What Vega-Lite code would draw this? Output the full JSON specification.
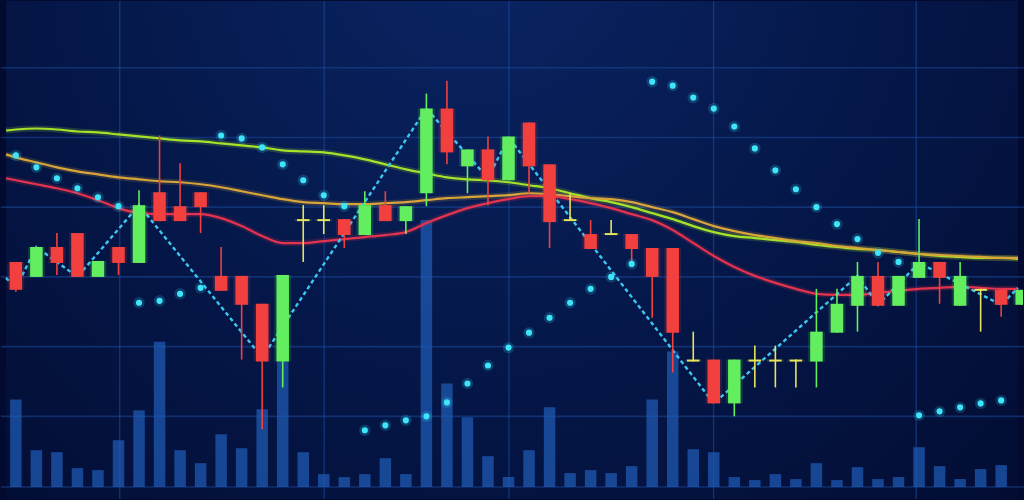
{
  "$schema": "https://vega.github.io/schema/vega-lite/v6.json",
  "width": 1024,
  "height": 500,
  "padding": 0,
  "autosize": {"type": "fit", "contains": "padding"},
  "background": "#020a30",
  "view": {"stroke": null, "fill": null},
  "config": {"view": {"stroke": null}},
  "datasets": {
    "bg": [{"i": -0.48, "i2": 48.82, "y0": 0, "y1": 50}],
    "gx": [{"i": 5.06}, {"i": 15.02}, {"i": 24.02}, {"i": 33.99}, {"i": 43.86}],
    "gy": [{"p": 43.3}, {"p": 36.3}, {"p": 29.3}, {"p": 22.3}, {"p": 15.3}, {"p": 8.3}, {"p": 1.2}],
    "candles": [
      {"i":0,"o":23.8,"h":23.8,"l":20.8,"c":21.0,"t":"down"},
      {"i":1,"o":22.3,"h":25.3,"l":22.3,"c":25.3,"t":"up"},
      {"i":2,"o":25.3,"h":26.7,"l":22.5,"c":23.7,"t":"down"},
      {"i":3,"o":26.7,"h":26.7,"l":22.3,"c":22.3,"t":"down"},
      {"i":4,"o":22.3,"h":23.9,"l":22.3,"c":23.9,"t":"up"},
      {"i":5,"o":25.3,"h":25.3,"l":22.5,"c":23.7,"t":"down"},
      {"i":6,"o":23.7,"h":31.0,"l":23.7,"c":29.5,"t":"up"},
      {"i":7,"o":30.8,"h":36.5,"l":27.9,"c":27.9,"t":"down"},
      {"i":8,"o":29.4,"h":33.7,"l":27.9,"c":27.9,"t":"down"},
      {"i":9,"o":30.8,"h":30.8,"l":26.7,"c":29.3,"t":"down"},
      {"i":10,"o":22.4,"h":25.3,"l":20.9,"c":20.9,"t":"down"},
      {"i":11,"o":22.4,"h":22.4,"l":14.0,"c":19.5,"t":"down"},
      {"i":12,"o":19.6,"h":19.6,"l":7.0,"c":13.8,"t":"down"},
      {"i":13,"o":13.8,"h":22.5,"l":11.2,"c":22.5,"t":"up"},
      {"i":14,"o":28.1,"h":29.5,"l":23.8,"c":27.9,"t":"doji"},
      {"i":15,"o":28.1,"h":29.5,"l":26.6,"c":27.9,"t":"doji"},
      {"i":16,"o":28.1,"h":28.1,"l":25.2,"c":26.5,"t":"down"},
      {"i":17,"o":26.5,"h":30.9,"l":26.5,"c":29.5,"t":"up"},
      {"i":18,"o":29.5,"h":30.9,"l":27.9,"c":27.9,"t":"down"},
      {"i":19,"o":27.9,"h":29.4,"l":26.6,"c":29.4,"t":"up"},
      {"i":20,"o":30.7,"h":40.7,"l":29.4,"c":39.2,"t":"up"},
      {"i":21,"o":39.2,"h":42.0,"l":33.6,"c":34.8,"t":"down"},
      {"i":22,"o":33.4,"h":35.1,"l":30.7,"c":35.1,"t":"up"},
      {"i":23,"o":35.1,"h":36.4,"l":29.5,"c":32.0,"t":"down"},
      {"i":24,"o":32.0,"h":36.4,"l":32.0,"c":36.4,"t":"up"},
      {"i":25,"o":37.8,"h":37.8,"l":30.7,"c":33.4,"t":"down"},
      {"i":26,"o":33.6,"h":33.6,"l":25.2,"c":27.8,"t":"down"},
      {"i":27,"o":28.1,"h":30.7,"l":27.9,"c":27.9,"t":"doji"},
      {"i":28,"o":26.6,"h":28.0,"l":25.1,"c":25.1,"t":"down"},
      {"i":29,"o":26.7,"h":28.0,"l":26.5,"c":26.5,"t":"doji"},
      {"i":30,"o":26.6,"h":26.6,"l":23.8,"c":25.1,"t":"down"},
      {"i":31,"o":25.2,"h":25.2,"l":18.2,"c":22.3,"t":"down"},
      {"i":32,"o":25.2,"h":25.2,"l":12.7,"c":16.7,"t":"down"},
      {"i":33,"o":14.0,"h":16.8,"l":13.8,"c":13.8,"t":"doji"},
      {"i":34,"o":14.0,"h":14.0,"l":9.6,"c":9.6,"t":"down"},
      {"i":35,"o":9.6,"h":14.0,"l":8.3,"c":14.0,"t":"up"},
      {"i":36,"o":14.0,"h":15.4,"l":11.2,"c":13.8,"t":"doji"},
      {"i":37,"o":14.0,"h":15.4,"l":11.2,"c":13.8,"t":"doji"},
      {"i":38,"o":14.0,"h":14.0,"l":11.2,"c":13.8,"t":"doji"},
      {"i":39,"o":13.8,"h":21.1,"l":11.2,"c":16.8,"t":"up"},
      {"i":40,"o":16.7,"h":21.1,"l":16.7,"c":19.6,"t":"up"},
      {"i":41,"o":19.4,"h":23.8,"l":16.8,"c":22.4,"t":"up"},
      {"i":42,"o":22.4,"h":23.8,"l":19.4,"c":19.4,"t":"down"},
      {"i":43,"o":19.4,"h":22.4,"l":19.4,"c":22.4,"t":"up"},
      {"i":44,"o":22.2,"h":28.1,"l":22.2,"c":23.8,"t":"up"},
      {"i":45,"o":23.8,"h":23.8,"l":19.6,"c":22.2,"t":"down"},
      {"i":46,"o":19.4,"h":23.8,"l":19.4,"c":22.4,"t":"up"},
      {"i":47,"o":21.1,"h":21.1,"l":16.8,"c":20.9,"t":"doji"},
      {"i":48,"o":21.0,"h":21.0,"l":18.3,"c":19.5,"t":"down"},
      {"i":49,"o":19.5,"h":21.0,"l":19.5,"c":21.0,"t":"up"}
    ],
    "volume": [
      {"i":0,"v":17.6},{"i":1,"v":7.4},{"i":2,"v":7.0},{"i":3,"v":3.8},{"i":4,"v":3.4},
      {"i":5,"v":9.4},{"i":6,"v":15.4},{"i":7,"v":29.2},{"i":8,"v":7.4},{"i":9,"v":4.8},
      {"i":10,"v":10.6},{"i":11,"v":7.8},{"i":12,"v":15.6},{"i":13,"v":25.2},{"i":14,"v":7.0},
      {"i":15,"v":2.6},{"i":16,"v":2.0},{"i":17,"v":2.6},{"i":18,"v":5.8},{"i":19,"v":2.6},
      {"i":20,"v":53.6},{"i":21,"v":20.8},{"i":22,"v":14.0},{"i":23,"v":6.2},{"i":24,"v":2.0},
      {"i":25,"v":7.4},{"i":26,"v":16.0},{"i":27,"v":2.8},{"i":28,"v":3.4},{"i":29,"v":2.8},
      {"i":30,"v":4.2},{"i":31,"v":17.6},{"i":32,"v":27.2},{"i":33,"v":7.6},{"i":34,"v":7.0},
      {"i":35,"v":2.0},{"i":36,"v":1.4},{"i":37,"v":2.6},{"i":38,"v":1.6},{"i":39,"v":4.8},
      {"i":40,"v":1.4},{"i":41,"v":4.0},{"i":42,"v":1.6},{"i":43,"v":2.0},{"i":44,"v":8.0},
      {"i":45,"v":4.2},{"i":46,"v":1.6},{"i":47,"v":3.6},{"i":48,"v":4.4}
    ],
    "ma": [
      {"s":"ma1","i":-0.48,"p":37.0},{"s":"ma1","i":0,"p":37.1},{"s":"ma1","i":1,"p":37.2},{"s":"ma1","i":2,"p":37.1},{"s":"ma1","i":3,"p":36.9},{"s":"ma1","i":4,"p":36.8},{"s":"ma1","i":5,"p":36.6},{"s":"ma1","i":6,"p":36.4},{"s":"ma1","i":7,"p":36.2},{"s":"ma1","i":8,"p":36.0},{"s":"ma1","i":9,"p":35.9},{"s":"ma1","i":10,"p":35.7},{"s":"ma1","i":11,"p":35.5},{"s":"ma1","i":12,"p":35.3},{"s":"ma1","i":13,"p":35.0},{"s":"ma1","i":14,"p":34.9},{"s":"ma1","i":15,"p":34.8},{"s":"ma1","i":16,"p":34.5},{"s":"ma1","i":17,"p":34.1},{"s":"ma1","i":18,"p":33.6},{"s":"ma1","i":19,"p":33.1},{"s":"ma1","i":20,"p":32.7},{"s":"ma1","i":21,"p":32.3},{"s":"ma1","i":22,"p":32.1},{"s":"ma1","i":23,"p":32.0},{"s":"ma1","i":24,"p":31.8},{"s":"ma1","i":25,"p":31.5},{"s":"ma1","i":26,"p":31.2},{"s":"ma1","i":27,"p":30.7},{"s":"ma1","i":28,"p":30.2},{"s":"ma1","i":29,"p":29.8},{"s":"ma1","i":30,"p":29.3},{"s":"ma1","i":31,"p":28.7},{"s":"ma1","i":32,"p":28.1},{"s":"ma1","i":33,"p":27.4},{"s":"ma1","i":34,"p":26.8},{"s":"ma1","i":35,"p":26.4},{"s":"ma1","i":36,"p":26.2},{"s":"ma1","i":37,"p":26.0},{"s":"ma1","i":38,"p":25.8},{"s":"ma1","i":39,"p":25.5},{"s":"ma1","i":40,"p":25.3},{"s":"ma1","i":41,"p":25.1},{"s":"ma1","i":42,"p":25.0},{"s":"ma1","i":43,"p":24.8},{"s":"ma1","i":44,"p":24.6},{"s":"ma1","i":45,"p":24.4},{"s":"ma1","i":46,"p":24.3},{"s":"ma1","i":47,"p":24.2},{"s":"ma1","i":48,"p":24.2},{"s":"ma1","i":48.82,"p":24.1},
      {"s":"ma2","i":-0.48,"p":34.6},{"s":"ma2","i":0,"p":34.3},{"s":"ma2","i":1,"p":33.8},{"s":"ma2","i":2,"p":33.3},{"s":"ma2","i":3,"p":32.9},{"s":"ma2","i":4,"p":32.6},{"s":"ma2","i":5,"p":32.3},{"s":"ma2","i":6,"p":32.1},{"s":"ma2","i":7,"p":31.9},{"s":"ma2","i":8,"p":31.8},{"s":"ma2","i":9,"p":31.6},{"s":"ma2","i":10,"p":31.3},{"s":"ma2","i":11,"p":30.9},{"s":"ma2","i":12,"p":30.5},{"s":"ma2","i":13,"p":30.1},{"s":"ma2","i":14,"p":29.8},{"s":"ma2","i":15,"p":29.7},{"s":"ma2","i":16,"p":29.6},{"s":"ma2","i":17,"p":29.6},{"s":"ma2","i":18,"p":29.7},{"s":"ma2","i":19,"p":29.8},{"s":"ma2","i":20,"p":30.0},{"s":"ma2","i":21,"p":30.2},{"s":"ma2","i":22,"p":30.3},{"s":"ma2","i":23,"p":30.4},{"s":"ma2","i":24,"p":30.5},{"s":"ma2","i":25,"p":30.7},{"s":"ma2","i":26,"p":30.6},{"s":"ma2","i":27,"p":30.4},{"s":"ma2","i":28,"p":30.2},{"s":"ma2","i":29,"p":30.1},{"s":"ma2","i":30,"p":29.8},{"s":"ma2","i":31,"p":29.3},{"s":"ma2","i":32,"p":28.8},{"s":"ma2","i":33,"p":28.1},{"s":"ma2","i":34,"p":27.4},{"s":"ma2","i":35,"p":26.9},{"s":"ma2","i":36,"p":26.5},{"s":"ma2","i":37,"p":26.2},{"s":"ma2","i":38,"p":25.9},{"s":"ma2","i":39,"p":25.7},{"s":"ma2","i":40,"p":25.4},{"s":"ma2","i":41,"p":25.2},{"s":"ma2","i":42,"p":25.0},{"s":"ma2","i":43,"p":24.8},{"s":"ma2","i":44,"p":24.6},{"s":"ma2","i":45,"p":24.5},{"s":"ma2","i":46,"p":24.4},{"s":"ma2","i":47,"p":24.3},{"s":"ma2","i":48,"p":24.2},{"s":"ma2","i":48.82,"p":24.2},
      {"s":"ma3","i":-0.48,"p":32.2},{"s":"ma3","i":0,"p":32.0},{"s":"ma3","i":1,"p":31.6},{"s":"ma3","i":2,"p":31.2},{"s":"ma3","i":3,"p":30.7},{"s":"ma3","i":4,"p":30.0},{"s":"ma3","i":5,"p":29.2},{"s":"ma3","i":6,"p":28.7},{"s":"ma3","i":7,"p":28.6},{"s":"ma3","i":8,"p":28.6},{"s":"ma3","i":9,"p":28.6},{"s":"ma3","i":10,"p":28.2},{"s":"ma3","i":11,"p":27.4},{"s":"ma3","i":12,"p":26.4},{"s":"ma3","i":13,"p":25.7},{"s":"ma3","i":14,"p":25.7},{"s":"ma3","i":15,"p":25.9},{"s":"ma3","i":16,"p":26.1},{"s":"ma3","i":17,"p":26.3},{"s":"ma3","i":18,"p":26.5},{"s":"ma3","i":19,"p":26.8},{"s":"ma3","i":20,"p":27.7},{"s":"ma3","i":21,"p":28.5},{"s":"ma3","i":22,"p":29.2},{"s":"ma3","i":23,"p":29.7},{"s":"ma3","i":24,"p":30.1},{"s":"ma3","i":25,"p":30.4},{"s":"ma3","i":26,"p":30.4},{"s":"ma3","i":27,"p":30.1},{"s":"ma3","i":28,"p":29.7},{"s":"ma3","i":29,"p":29.2},{"s":"ma3","i":30,"p":28.6},{"s":"ma3","i":31,"p":28.0},{"s":"ma3","i":32,"p":27.0},{"s":"ma3","i":33,"p":25.7},{"s":"ma3","i":34,"p":24.4},{"s":"ma3","i":35,"p":23.3},{"s":"ma3","i":36,"p":22.4},{"s":"ma3","i":37,"p":21.7},{"s":"ma3","i":38,"p":21.1},{"s":"ma3","i":39,"p":20.6},{"s":"ma3","i":40,"p":20.5},{"s":"ma3","i":41,"p":20.5},{"s":"ma3","i":42,"p":20.7},{"s":"ma3","i":43,"p":20.9},{"s":"ma3","i":44,"p":21.1},{"s":"ma3","i":45,"p":21.2},{"s":"ma3","i":46,"p":21.3},{"s":"ma3","i":47,"p":21.2},{"s":"ma3","i":48,"p":21.1},{"s":"ma3","i":48.82,"p":21.1}
    ],
    "sar": [
      {"i":0,"p":34.5},{"i":1,"p":33.3},{"i":2,"p":32.2},{"i":3,"p":31.2},{"i":4,"p":30.3},{"i":5,"p":29.4},
      {"i":6,"p":19.7},{"i":7,"p":19.9},{"i":8,"p":20.6},{"i":9,"p":21.2},
      {"i":10,"p":36.5},{"i":11,"p":36.2},{"i":12,"p":35.3},{"i":13,"p":33.6},{"i":14,"p":32.0},{"i":15,"p":30.5},{"i":16,"p":29.4},
      {"i":17,"p":6.9},{"i":18,"p":7.4},{"i":19,"p":7.9},{"i":20,"p":8.3},{"i":21,"p":9.7},{"i":22,"p":11.6},{"i":23,"p":13.4},{"i":24,"p":15.2},{"i":25,"p":16.7},{"i":26,"p":18.2},{"i":27,"p":19.7},{"i":28,"p":21.1},{"i":29,"p":22.3},{"i":30,"p":23.6},
      {"i":31,"p":41.9},{"i":32,"p":41.5},{"i":33,"p":40.3},{"i":34,"p":39.2},{"i":35,"p":37.4},{"i":36,"p":35.2},{"i":37,"p":33.0},{"i":38,"p":31.1},{"i":39,"p":29.3},{"i":40,"p":27.6},{"i":41,"p":26.1},{"i":42,"p":24.7},{"i":43,"p":23.8},
      {"i":44,"p":8.4},{"i":45,"p":8.8},{"i":46,"p":9.2},{"i":47,"p":9.6},{"i":48,"p":9.9}
    ],
    "zig": [
      {"i":-0.48,"p":22.2},{"i":0,"p":21.2},{"i":1,"p":25.3},{"i":3,"p":22.3},{"i":6,"p":29.5},{"i":12,"p":14.2},{"i":20,"p":39.2},{"i":23,"p":32.2},{"i":24,"p":36.3},{"i":34,"p":9.6},{"i":41,"p":22.4},{"i":42,"p":19.5},{"i":44,"p":23.7},{"i":48,"p":19.5},{"i":48.82,"p":21.2}
    ]
  },
  "encoding": {
    "x": {"field": "i", "type": "quantitative", "axis": null, "scale": {"domain": [-0.48, 48.82], "nice": false, "zero": false}}
  },
  "layer": [
    {
      "data": {"name": "bg"},
      "mark": {"type": "rect", "clip": true, "strokeWidth": 0,
        "fill": {"gradient": "radial", "x1": 0.47, "y1": 0.2, "r1": 0, "x2": 0.47, "y2": 0.2, "r2": 0.85,
          "stops": [{"offset": 0, "color": "#0a2564"}, {"offset": 0.45, "color": "#05184a"}, {"offset": 1, "color": "#020a2e"}]}},
      "encoding": {
        "x2": {"field": "i2"},
        "y": {"field": "y0", "type": "quantitative", "axis": null, "scale": {"domain": [0, 50], "nice": false, "zero": false}},
        "y2": {"field": "y1"}
      }
    },
    {
      "data": {"name": "gx"},
      "mark": {"type": "rule", "color": "#1b4c9e", "strokeWidth": 1.3, "opacity": 0.6},
      "encoding": {}
    },
    {
      "data": {"name": "gy"},
      "mark": {"type": "rule", "color": "#1b4c9e", "strokeWidth": 1.6, "opacity": 0.5},
      "encoding": {
        "x": {"value": 0}, "x2": {"value": 1024},
        "y": {"field": "p", "type": "quantitative", "axis": null, "scale": {"domain": [0, 50], "nice": false, "zero": false}}
      }
    },
    {
      "data": {"name": "volume"},
      "mark": {"type": "bar", "width": 11.5, "color": "#1e5cb6", "opacity": 0.72, "clip": true},
      "encoding": {
        "y": {"field": "v", "type": "quantitative", "axis": null, "scale": {"domain": [-2.4, 97.6], "nice": false, "zero": false}},
        "y2": {"datum": 0}
      }
    },
    {
      "data": {"name": "ma"},
      "mark": {"type": "line", "strokeWidth": 6, "opacity": 0.18, "interpolate": "monotone", "clip": true},
      "encoding": {
        "y": {"field": "p", "type": "quantitative", "axis": null, "scale": {"domain": [0, 50], "nice": false, "zero": false}},
        "color": {"field": "s", "type": "nominal", "legend": null, "scale": {"domain": ["ma1", "ma2", "ma3"], "range": ["#a6e22a", "#d9a43a", "#e3334e"]}}
      }
    },
    {
      "data": {"name": "ma"},
      "mark": {"type": "line", "strokeWidth": 2.2, "interpolate": "monotone", "clip": true},
      "encoding": {
        "y": {"field": "p", "type": "quantitative", "axis": null, "scale": {"domain": [0, 50], "nice": false, "zero": false}},
        "color": {"field": "s", "type": "nominal", "legend": null, "scale": {"domain": ["ma1", "ma2", "ma3"], "range": ["#a6e22a", "#d9a43a", "#e3334e"]}}
      }
    },
    {
      "data": {"name": "zig"},
      "mark": {"type": "line", "color": "#3cc6f2", "strokeWidth": 2.4, "strokeDash": [4, 3], "clip": true},
      "encoding": {
        "y": {"field": "p", "type": "quantitative", "axis": null, "scale": {"domain": [0, 50], "nice": false, "zero": false}}
      }
    },
    {
      "data": {"name": "candles"},
      "mark": {"type": "rule", "strokeWidth": 1.6, "clip": true},
      "encoding": {
        "y": {"field": "h", "type": "quantitative", "axis": null, "scale": {"domain": [0, 50], "nice": false, "zero": false}},
        "y2": {"field": "l"},
        "color": {"field": "t", "type": "nominal", "legend": null, "scale": {"domain": ["up", "down", "doji"], "range": ["#62ee5e", "#f2403f", "#e6e45a"]}}
      }
    },
    {
      "data": {"name": "candles"},
      "mark": {"type": "bar", "width": 17, "opacity": 0.16, "clip": true},
      "encoding": {
        "y": {"field": "o", "type": "quantitative", "axis": null, "scale": {"domain": [0, 50], "nice": false, "zero": false}},
        "y2": {"field": "c"},
        "color": {"field": "t", "type": "nominal", "legend": null, "scale": {"domain": ["up", "down", "doji"], "range": ["#62ee5e", "#f2403f", "#e6e45a"]}}
      }
    },
    {
      "data": {"name": "candles"},
      "mark": {"type": "bar", "width": 12.5, "clip": true},
      "encoding": {
        "y": {"field": "o", "type": "quantitative", "axis": null, "scale": {"domain": [0, 50], "nice": false, "zero": false}},
        "y2": {"field": "c"},
        "color": {"field": "t", "type": "nominal", "legend": null, "scale": {"domain": ["up", "down", "doji"], "range": ["#62ee5e", "#f2403f", "#e6e45a"]}}
      }
    },
    {
      "data": {"name": "sar"},
      "mark": {"type": "circle", "size": 130, "color": "#30d8f5", "opacity": 0.2, "clip": true},
      "encoding": {
        "y": {"field": "p", "type": "quantitative", "axis": null, "scale": {"domain": [0, 50], "nice": false, "zero": false}}
      }
    },
    {
      "data": {"name": "sar"},
      "mark": {"type": "circle", "size": 38, "color": "#3ee4fa", "opacity": 1, "clip": true},
      "encoding": {
        "y": {"field": "p", "type": "quantitative", "axis": null, "scale": {"domain": [0, 50], "nice": false, "zero": false}}
      }
    }
  ],
  "resolve": {"scale": {"y": "independent", "color": "independent"}}
}
